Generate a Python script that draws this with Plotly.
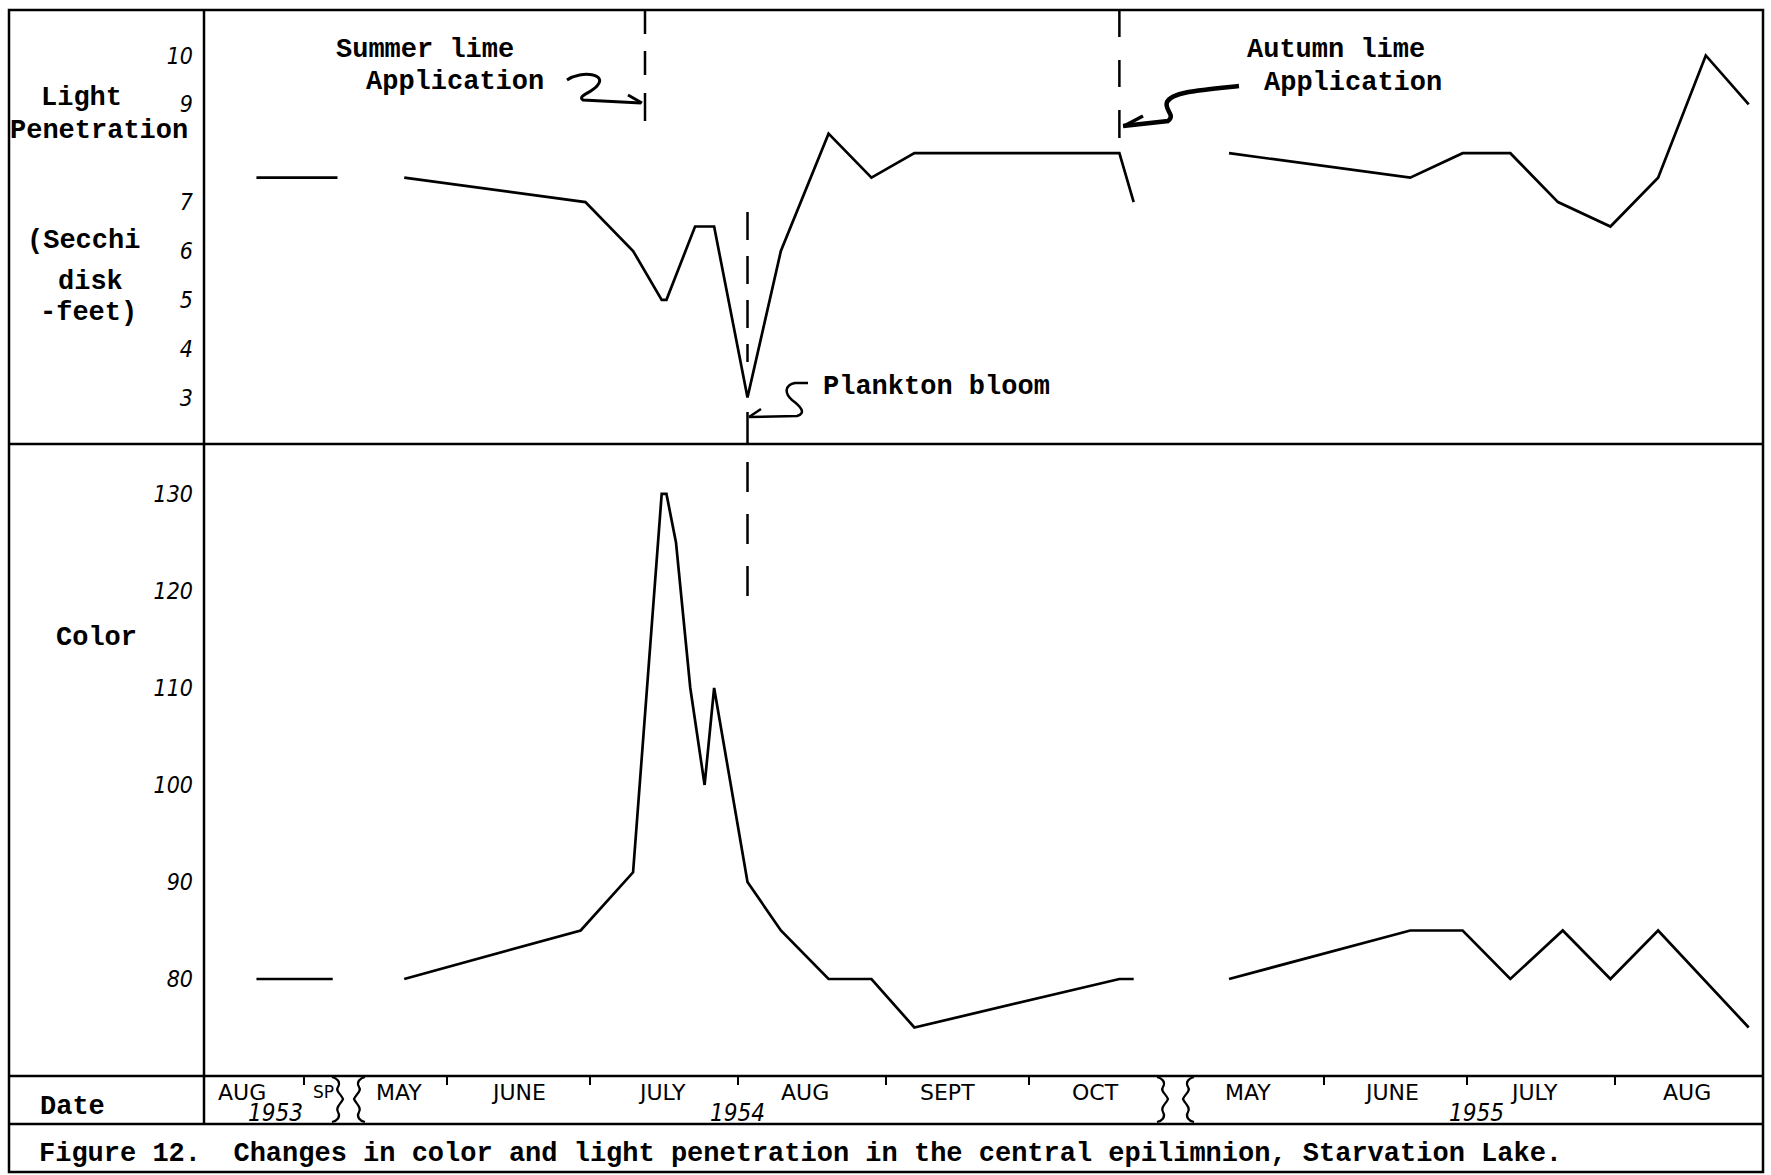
import plotly.graph_objects as go

W, H = 1771, 1175

# ---------------- data ----------------
light_dates_1953 = ["1953-08-22", "1953-09-08"]
light_1953 = [7.5, 7.5]
light_dates_1954 = ["1954-05-23", "1954-06-30", "1954-07-10", "1954-07-16", "1954-07-17",
                    "1954-07-23", "1954-07-27", "1954-08-03", "1954-08-10", "1954-08-20",
                    "1954-08-29", "1954-09-07", "1954-10-20", "1954-10-23"]
light_1954 = [7.5, 7.0, 6.0, 5.0, 5.0, 6.5, 6.5, 3.0, 6.0, 8.4, 7.5, 8.0, 8.0, 7.0]
light_dates_1955 = ["1955-05-12", "1955-06-19", "1955-06-30", "1955-07-10", "1955-07-20",
                    "1955-07-31", "1955-08-10", "1955-08-20", "1955-08-29"]
light_1955 = [8.0, 7.5, 8.0, 8.0, 7.0, 6.5, 7.5, 10.0, 9.0]

color_dates_1953 = ["1953-08-22", "1953-09-07"]
color_1953 = [80, 80]
color_dates_1954 = ["1954-05-23", "1954-06-29", "1954-07-10", "1954-07-16", "1954-07-17",
                    "1954-07-19", "1954-07-22", "1954-07-25", "1954-07-27", "1954-08-03",
                    "1954-08-10", "1954-08-20", "1954-08-29", "1954-09-07", "1954-10-20",
                    "1954-10-23"]
color_1954 = [80, 85, 91, 130, 130, 125, 110, 100, 110, 90, 85, 80, 80, 75, 80, 80]
color_dates_1955 = ["1955-05-12", "1955-06-19", "1955-06-30", "1955-07-10", "1955-07-21",
                    "1955-07-31", "1955-08-10", "1955-08-29"]
color_1955 = [80, 85, 85, 80, 85, 80, 85, 75]

light_ticks = [3, 4, 5, 6, 7, 9, 10]
color_ticks = [80, 90, 100, 110, 120, 130]

month_tick_dates = ["1953-09-01", "1954-06-01", "1954-07-01", "1954-08-01", "1954-09-01",
                    "1954-10-01", "1955-06-01", "1955-07-01", "1955-08-01"]
month_names = ["AUG", "SP", "MAY", "JUNE", "JULY", "AUG", "SEPT", "OCT",
               "MAY", "JUNE", "JULY", "AUG"]
month_label_dates = ["1953-08-19", "1953-09-05", "1954-05-22", "1954-06-16", "1954-07-16",
                     "1954-08-15", "1954-09-14", "1954-10-15", "1955-05-16", "1955-06-15",
                     "1955-07-15", "1955-08-16"]
years = ["1953", "1954", "1955"]
year_label_dates = ["1953-08-26", "1954-08-01", "1955-07-03"]

summer_lime_date = "1954-07-12 12:00"
autumn_lime_date = "1954-10-20"
plankton_bloom_date = "1954-08-03"

# ---------------- layout helpers ----------------
def px(X):
    return X / W


def py(Y):
    return 1 - Y / H


def svg(cmds):
    out = []
    for c, pts in cmds:
        out.append(c + " " + " ".join(f"{px(x):.5f},{py(y):.5f}" for x, y in pts))
    return " ".join(out)


TYPE = dict(family="Liberation Mono, Courier New, monospace", size=27, color="black", weight="bold")
HAND = dict(family="DejaVu Sans Condensed, DejaVu Sans, sans-serif", size=22, color="black")
CAPS = dict(family="DejaVu Sans, sans-serif", size=21, color="black")

PLOT_L, PLOT_R = 204, 1763
TOP_T, MID, BOT_B = 10, 444, 1076

fig = go.Figure()

line_style = dict(color="black", width=2.7)
for d, v in [(light_dates_1953, light_1953), (light_dates_1954, light_1954),
             (light_dates_1955, light_1955)]:
    fig.add_trace(go.Scatter(x=d, y=v, mode="lines", line=line_style,
                             xaxis="x2", yaxis="y2", showlegend=False, hoverinfo="skip"))
for d, v in [(color_dates_1953, color_1953), (color_dates_1954, color_1954),
             (color_dates_1955, color_1955)]:
    fig.add_trace(go.Scatter(x=d, y=v, mode="lines", line=line_style,
                             xaxis="x", yaxis="y", showlegend=False, hoverinfo="skip"))

rbreaks = [dict(bounds=["1953-09-10", "1954-05-11"]),
           dict(bounds=["1954-11-01", "1955-05-01"])]
xrange_ = ["1953-08-11", "1955-09-01"]

fig.update_layout(
    width=W, height=H,
    margin=dict(l=0, r=0, t=0, b=0, pad=0),
    paper_bgcolor="white", plot_bgcolor="rgba(0,0,0,0)",
    xaxis=dict(type="date", domain=[px(PLOT_L), px(PLOT_R)], range=xrange_,
               rangebreaks=rbreaks, anchor="y", showgrid=False, zeroline=False,
               showline=False, ticks="outside", ticklen=8, tickwidth=2, tickcolor="black",
               tickvals=month_tick_dates, showticklabels=False),
    xaxis2=dict(type="date", domain=[px(PLOT_L), px(PLOT_R)], range=xrange_,
                rangebreaks=rbreaks, anchor="y2", matches="x", showgrid=False,
                zeroline=False, showline=False, ticks="", showticklabels=False),
    yaxis=dict(domain=[py(BOT_B), py(MID)], range=[70.0, 135.15], anchor="x",
               showgrid=False, zeroline=False, showline=False, ticks="",
               tickvals=color_ticks, ticktext=[str(t) for t in color_ticks],
               tickfont=dict(HAND, size=23, style="italic"), ticklabelstandoff=10),
    yaxis2=dict(domain=[py(MID), py(TOP_T)], range=[2.05, 10.93], anchor="x2",
                showgrid=False, zeroline=False, showline=False, ticks="",
                tickvals=light_ticks, ticktext=[str(t) for t in light_ticks],
                tickfont=dict(HAND, size=23, style="italic"), ticklabelstandoff=10),
)

shapes = []
BL = dict(color="black", width=2.5)
# outer frame and grid lines of the figure table
shapes.append(dict(type="rect", xref="paper", yref="paper", x0=px(9), x1=px(1763),
                   y0=py(1172), y1=py(10), line=BL))
shapes.append(dict(type="line", xref="paper", yref="paper", x0=px(204), x1=px(204),
                   y0=py(10), y1=py(1124), line=BL))
for Y in (MID, BOT_B, 1124):
    shapes.append(dict(type="line", xref="paper", yref="paper", x0=px(9), x1=px(1763),
                       y0=py(Y), y1=py(Y), line=BL))


# wavy braces in the date row
def brace(cx, direction):
    d = direction
    pts = [("M", [(cx - 6 * d, 1077)]),
           ("C", [(cx - 1 * d, 1078), (cx + 3 * d, 1082), (cx, 1087)]),
           ("C", [(cx - 3 * d, 1091), (cx + 3 * d, 1094), (cx + 5 * d, 1099)]),
           ("C", [(cx + 3 * d, 1104), (cx - 3 * d, 1107), (cx, 1112)]),
           ("C", [(cx + 3 * d, 1117), (cx - 1 * d, 1121), (cx - 6 * d, 1122)])]
    return dict(type="path", xref="paper", yref="paper", path=svg(pts),
                line=dict(color="black", width=2.2))


shapes += [brace(338, 1), brace(359, -1), brace(1163, 1), brace(1188, -1)]

# event lines (dashed with solid end pieces)
SOL = dict(color="black", width=2.5)
shapes.append(dict(type="line", xref="x", yref="paper", x0=summer_lime_date, x1=summer_lime_date,
                   y0=py(10), y1=py(76), line=dict(color="black", width=2.5, dash="24px,17px")))
shapes.append(dict(type="line", xref="x", yref="paper", x0=summer_lime_date, x1=summer_lime_date,
                   y0=py(93), y1=py(121), line=SOL))
shapes.append(dict(type="line", xref="x", yref="paper", x0=autumn_lime_date, x1=autumn_lime_date,
                   y0=py(10), y1=py(87), line=dict(color="black", width=2.5, dash="27px,23px")))
shapes.append(dict(type="line", xref="x", yref="paper", x0=autumn_lime_date, x1=autumn_lime_date,
                   y0=py(110), y1=py(138), line=SOL))
shapes.append(dict(type="line", xref="x", yref="paper", x0=plankton_bloom_date, x1=plankton_bloom_date,
                   y0=py(212), y1=py(362), line=dict(color="black", width=2.5, dash="28px,16px")))
shapes.append(dict(type="line", xref="x", yref="paper", x0=plankton_bloom_date, x1=plankton_bloom_date,
                   y0=py(412), y1=py(444), line=SOL))
shapes.append(dict(type="line", xref="x", yref="paper", x0=plankton_bloom_date, x1=plankton_bloom_date,
                   y0=py(462), y1=py(606), line=dict(color="black", width=2.5, dash="30px,22px")))

# hand drawn curly arrows
shapes.append(dict(type="path", xref="paper", yref="paper",
                   path=svg([("M", [(567, 80)]), ("C", [(582, 70), (608, 74), (597, 86)]),
                             ("C", [(591, 93), (577, 96), (583, 100)]), ("L", [(641, 103)])]),
                   line=dict(color="black", width=3)))
shapes.append(dict(type="path", xref="paper", yref="paper",
                   path=svg([("M", [(628, 95)]), ("L", [(642, 103), (628, 111)])]),
                   line=dict(color="black", width=3)))
shapes.append(dict(type="path", xref="paper", yref="paper",
                   path=svg([("M", [(1239, 86)]), ("C", [(1200, 90), (1172, 92), (1167, 102)]),
                             ("C", [(1164, 110), (1176, 115), (1168, 121)]), ("L", [(1123, 126)])]),
                   line=dict(color="black", width=4.5)))
shapes.append(dict(type="path", xref="paper", yref="paper",
                   path=svg([("M", [(1143, 116)]), ("L", [(1124, 126), (1142, 134)])]),
                   line=dict(color="black", width=3.5)))
shapes.append(dict(type="path", xref="paper", yref="paper",
                   path=svg([("M", [(808, 383)]), ("L", [(795, 383)]),
                             ("C", [(785, 385), (784, 393), (792, 400)]),
                             ("C", [(800, 406), (807, 413), (797, 416)]), ("L", [(749, 417)])]),
                   line=dict(color="black", width=2.5)))
shapes.append(dict(type="path", xref="paper", yref="paper",
                   path=svg([("M", [(761, 409)]), ("L", [(749, 417), (759, 426)])]),
                   line=dict(color="black", width=2.5)))

fig.update_layout(shapes=shapes)

ann = []


def text(X, Y, s, font=TYPE, xanchor="center"):
    ann.append(dict(x=px(X), y=py(Y), xref="paper", yref="paper", text=s, showarrow=False,
                    font=font, xanchor=xanchor, yanchor="middle"))


text(81, 98, "Light")
text(99, 131, "Penetration")
text(83, 241, "(Secchi")
text(90, 282, "disk")
text(88, 313, "-feet)")
text(96, 638, "Color")
text(72, 1107, "Date")
text(425, 50, "Summer lime")
text(455, 82, "Application")
text(1336, 50, "Autumn lime")
text(1353, 83, "Application")
text(936, 387, "Plankton bloom")
text(37, 1154, "Figure 12.  Changes in color and light penetration in the central epilimnion, "
               "Starvation Lake.", xanchor="left")

for name, d in zip(month_names, month_label_dates):
    ann.append(dict(x=d, y=py(1092), xref="x", yref="paper", text=name, showarrow=False,
                    font=dict(CAPS, size=22 if name != "SP" else 17), xanchor="center",
                    yanchor="middle"))
for name, d in zip(years, year_label_dates):
    ann.append(dict(x=d, y=py(1113), xref="x", yref="paper", text=name, showarrow=False,
                    font=dict(HAND, size=24, style="italic"), xanchor="center", yanchor="middle"))

fig.update_layout(annotations=ann)

fig.write_html("out.html", config={"displayModeBar": False},
               post_script="document.body.style.margin='0px';document.body.style.overflow='hidden';")
